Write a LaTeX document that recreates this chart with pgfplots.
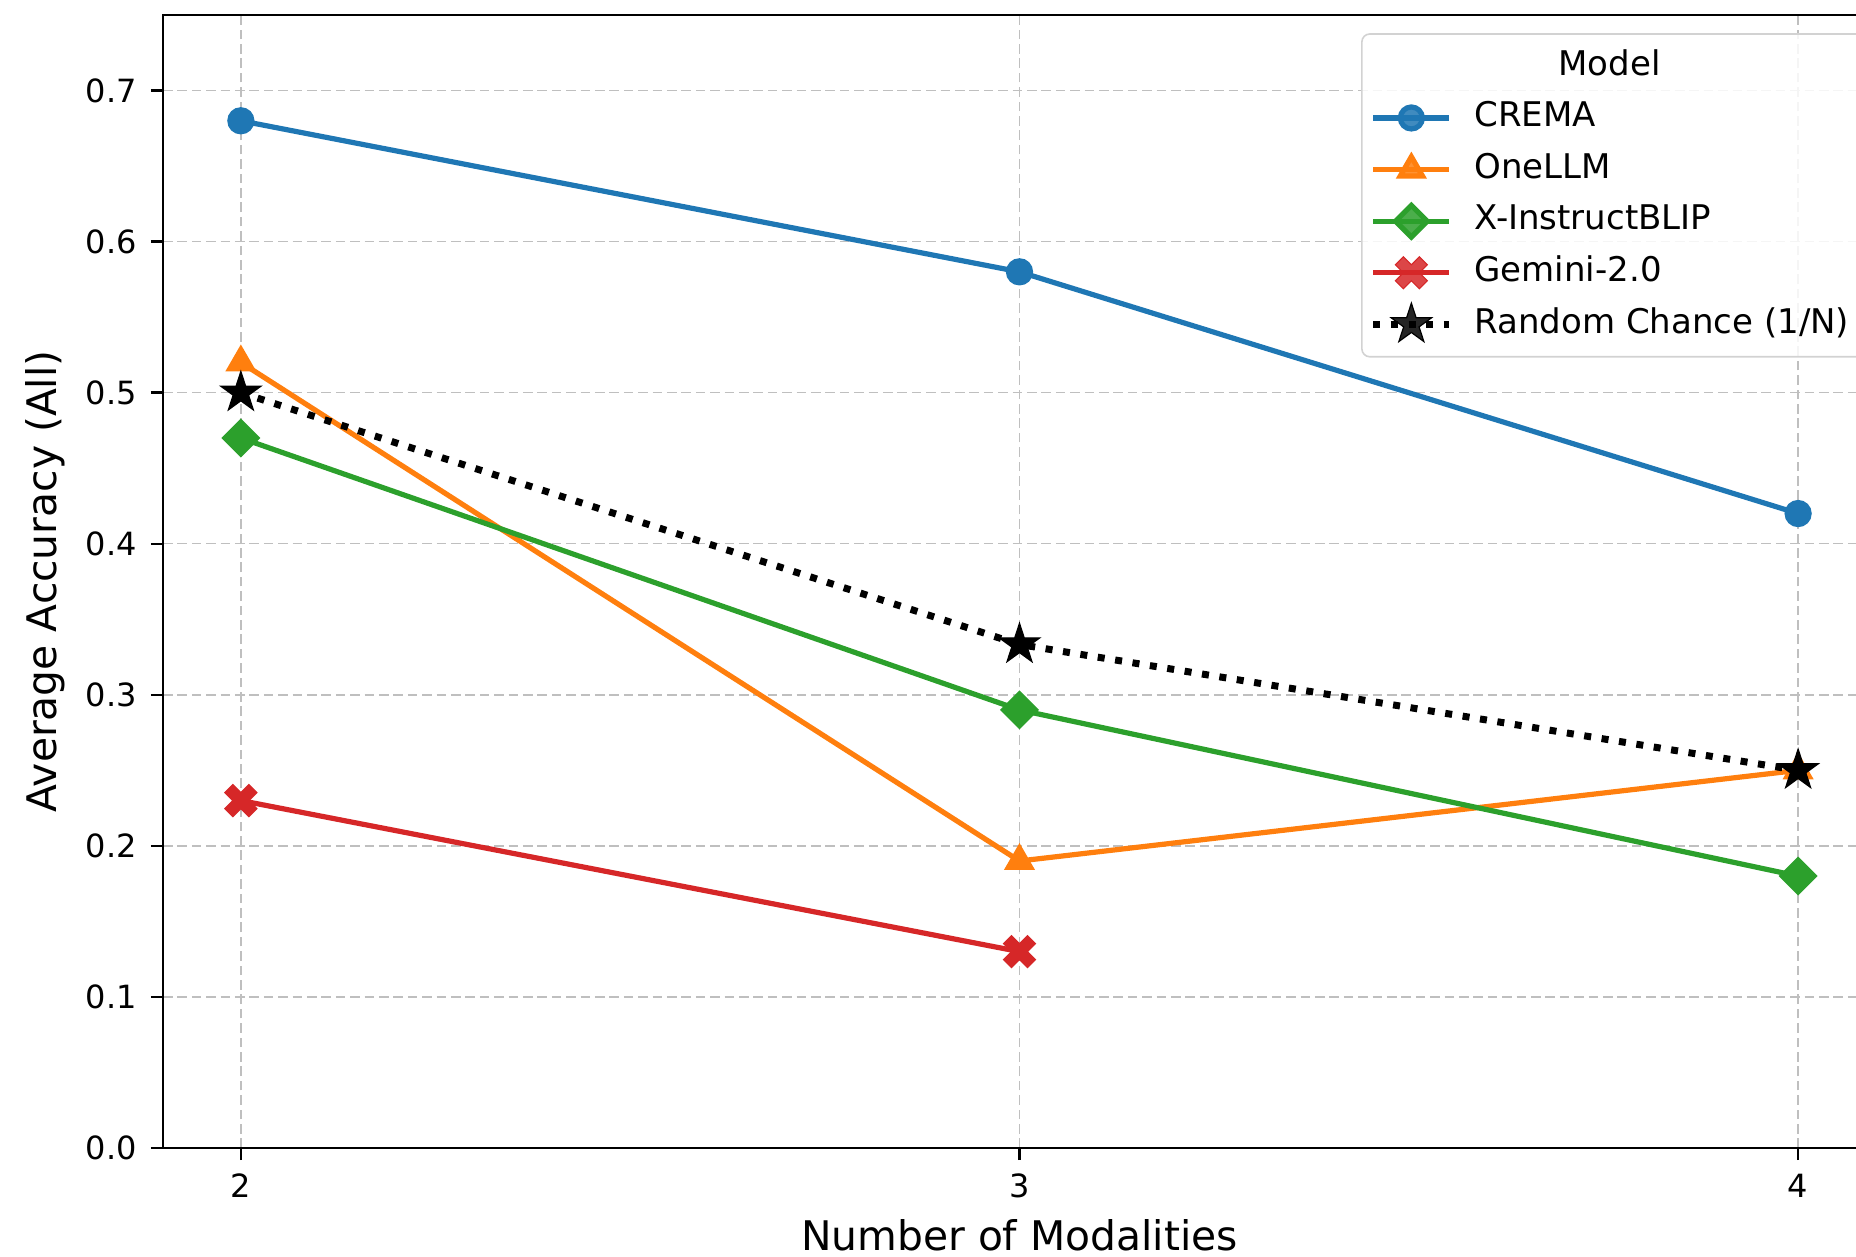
\documentclass[border=0pt]{standalone}
\usepackage{pgfplots}
\pgfplotsset{compat=1.18}
\usepackage{fontspec}
\setmainfont{DejaVu Sans}
\definecolor{c0}{HTML}{1F77B4}
\definecolor{c1}{HTML}{FF7F0E}
\definecolor{c2}{HTML}{2CA02C}
\definecolor{c3}{HTML}{D62728}
\pgfdeclareplotmark{Xfill}{%
  \pgfpathmoveto{\pgfqpoint{-0.5\pgfplotmarksize}{-1\pgfplotmarksize}}%
  \pgfpathlineto{\pgfqpoint{0pt}{-0.5\pgfplotmarksize}}%
  \pgfpathlineto{\pgfqpoint{0.5\pgfplotmarksize}{-1\pgfplotmarksize}}%
  \pgfpathlineto{\pgfqpoint{1\pgfplotmarksize}{-0.5\pgfplotmarksize}}%
  \pgfpathlineto{\pgfqpoint{0.5\pgfplotmarksize}{0pt}}%
  \pgfpathlineto{\pgfqpoint{1\pgfplotmarksize}{0.5\pgfplotmarksize}}%
  \pgfpathlineto{\pgfqpoint{0.5\pgfplotmarksize}{1\pgfplotmarksize}}%
  \pgfpathlineto{\pgfqpoint{0pt}{0.5\pgfplotmarksize}}%
  \pgfpathlineto{\pgfqpoint{-0.5\pgfplotmarksize}{1\pgfplotmarksize}}%
  \pgfpathlineto{\pgfqpoint{-1\pgfplotmarksize}{0.5\pgfplotmarksize}}%
  \pgfpathlineto{\pgfqpoint{-0.5\pgfplotmarksize}{0pt}}%
  \pgfpathlineto{\pgfqpoint{-1\pgfplotmarksize}{-0.5\pgfplotmarksize}}%
  \pgfpathclose\pgfusepathqfillstroke}
\pgfdeclareplotmark{starfill}{%
  \pgfpathmoveto{\pgfqpoint{0pt}{1\pgfplotmarksize}}%
  \pgfpathlineto{\pgfqpoint{-0.2245\pgfplotmarksize}{0.309\pgfplotmarksize}}%
  \pgfpathlineto{\pgfqpoint{-0.9511\pgfplotmarksize}{0.309\pgfplotmarksize}}%
  \pgfpathlineto{\pgfqpoint{-0.3633\pgfplotmarksize}{-0.118\pgfplotmarksize}}%
  \pgfpathlineto{\pgfqpoint{-0.5878\pgfplotmarksize}{-0.809\pgfplotmarksize}}%
  \pgfpathlineto{\pgfqpoint{0pt}{-0.382\pgfplotmarksize}}%
  \pgfpathlineto{\pgfqpoint{0.5878\pgfplotmarksize}{-0.809\pgfplotmarksize}}%
  \pgfpathlineto{\pgfqpoint{0.3633\pgfplotmarksize}{-0.118\pgfplotmarksize}}%
  \pgfpathlineto{\pgfqpoint{0.9511\pgfplotmarksize}{0.309\pgfplotmarksize}}%
  \pgfpathlineto{\pgfqpoint{0.2245\pgfplotmarksize}{0.309\pgfplotmarksize}}%
  \pgfpathclose\pgfusepathqfillstroke}
\begin{document}
\begin{tikzpicture}
\begin{axis}[
  scale only axis,
  width=428.25pt, height=283.25pt,
  xmin=1.9, xmax=4.1, ymin=0, ymax=0.75,
  xtick={2,3,4},
  ytick={0,0.1,0.2,0.3,0.4,0.5,0.6,0.7},
  /pgf/number format/assume math mode=true,
  yticklabel style={/pgf/number format/fixed,/pgf/number format/precision=1,/pgf/number format/fixed zerofill},
  tick label style={font=\fontsize{8}{9.6}\selectfont},
  tick align=outside, major tick length=3pt,
  tick style={black, line width=0.6pt},
  axis line style={line width=0.7pt},
  xtick pos=bottom, ytick pos=left,
  grid=major,
  major grid style={gray!50, line width=0.35pt, dash pattern=on 2.4pt off 1.2pt},
  xlabel={Number of Modalities},
  ylabel={Average Accuracy (All)},
  label style={font=\fontsize{10.2}{12.2}\selectfont},
  ylabel style={at={(axis description cs:-0.069,0.5)}, anchor=center},
  xlabel style={yshift=1.5pt},
  legend style={at={(rel axis cs:0.6994,0.984)}, anchor=north west,
    font=\fontsize{8.5}{10.2}\selectfont, draw=gray!35, rounded corners=2pt,
    fill=white, fill opacity=0.85, text opacity=1,
    row sep=0.7pt, inner xsep=2pt, inner ysep=2pt,
    nodes={text height=6.3pt, text depth=1.9pt}},
  legend cell align=left,
  legend image code/.code={\draw[mark repeat=2,mark phase=2,#1] plot coordinates {(0pt,0pt) (9.5pt,0pt) (19pt,0pt)}; \path (22.4pt,0pt);},
]
\addlegendimage{empty legend}
\addlegendentry{\hspace{21pt}Model}
\addplot[c0, line width=1.3pt, mark=*, mark size=2.75pt, mark options={solid, fill=c0}]
  coordinates {(2,0.68) (3,0.58) (4,0.42)};
\addlegendentry{CREMA}
\addplot[c1, line width=1.3pt, mark=triangle*, mark size=3.2pt, mark options={solid, fill=c1}]
  coordinates {(2,0.52) (3,0.19) (4,0.25)};
\addlegendentry{OneLLM}
\addplot[c2, line width=1.3pt, mark=square*, mark size=2.8pt, mark options={solid, fill=c2, rotate=45}]
  coordinates {(2,0.47) (3,0.29) (4,0.18)};
\addlegendentry{X-InstructBLIP}
\addplot[c3, line width=1.3pt, mark=Xfill, mark size=4pt, mark options={solid, fill=c3, line width=0.3pt}]
  coordinates {(2,0.23) (3,0.13)};
\addlegendentry{Gemini-2.0}
\addplot[black, line width=1.75pt, dash pattern=on 1.75pt off 2.65pt, mark=starfill, mark size=5.3pt, mark options={solid, fill=black, line width=0.3pt}]
  coordinates {(2,0.5) (3,0.3333) (4,0.25)};
\addlegendentry{Random Chance (1/N)}
\end{axis}
\pgfresetboundingbox
\useasboundingbox (-40.75pt,-27pt) rectangle (423.25pt,287pt);
\end{tikzpicture}
\end{document}
